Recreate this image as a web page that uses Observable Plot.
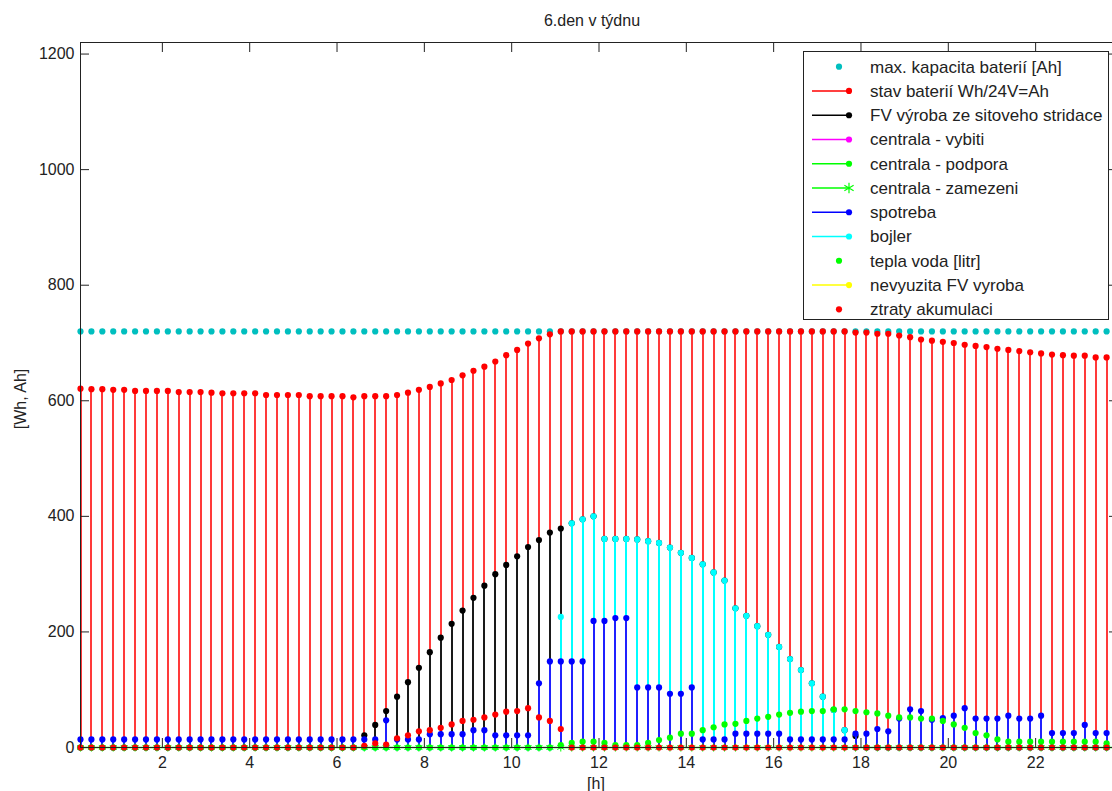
<!DOCTYPE html>
<html>
<head>
<meta charset="utf-8">
<script src="https://cdn.jsdelivr.net/npm/d3@7"></script>
<script src="https://cdn.jsdelivr.net/npm/@observablehq/plot@0.6"></script>
<style>
  html, body { margin: 0; padding: 0; background: #fff; overflow: hidden; }
  #chart { width: 1112px; height: 791px; overflow: hidden; }
  #chart svg { max-width: none !important; }
</style>
</head>
<body>
<div id="chart"></div>
<script>
// Quarter-hour slots of the day (centre of each 15-minute interval)
const hours = d3.range(0.125, 23.7, 0.25);

const title = "6.den v týdnu";
const yLabel = "[Wh, Ah]";
const xLabel = "[h]";
const xTicks = [2, 4, 6, 8, 10, 12, 14, 16, 18, 20, 22];
const yTicks = [0, 200, 400, 600, 800, 1000, 1200];

// max. kapacita baterií [Ah]
const maxKapacita = 720;

// stav baterií Wh/24V=Ah
const stavBaterii = [
  621, 620, 620, 619, 619, 617, 617, 617, 617, 615,
  615, 615, 614, 613, 613, 613, 613, 610, 610, 610,
  610, 608, 608, 608, 608, 606, 608, 608, 608, 610,
  614, 619, 624, 630, 636, 644, 652, 659, 668, 679,
  688, 699, 708, 715, 720, 720, 720, 720, 720, 720,
  720, 720, 720, 720, 720, 720, 720, 720, 720, 720,
  720, 720, 720, 720, 720, 720, 720, 720, 720, 720,
  720, 718, 718, 716, 716, 713, 710, 706, 704, 702,
  700, 697, 695, 693, 690, 688, 686, 684, 682, 680,
  679, 678, 678, 675, 675
];

// FV výroba ze sitoveho stridace
const fvVyroba = [
  0, 0, 0, 0, 0, 0, 0, 0, 0, 0,
  0, 0, 0, 0, 0, 0, 0, 0, 0, 0,
  0, 0, 0, 0, 0, 0, 21, 39, 63, 88,
  113, 138, 165, 190, 214, 237, 259, 280, 300, 316,
  331, 347, 359, 372, 379, 388, 395, 400, 361, 361,
  361, 360, 357, 354, 346, 337, 328, 317, 303, 289,
  241, 228, 210, 195, 174, 153, 134, 111, 88, 65,
  30, 20, 0, 0, 0, 0, 0, 0, 0, 0,
  0, 0, 0, 0, 0, 0, 0, 0, 0, 0,
  0, 0, 0, 0, 0
];

// bojler
const bojler = [
  0, 0, 0, 0, 0, 0, 0, 0, 0, 0,
  0, 0, 0, 0, 0, 0, 0, 0, 0, 0,
  0, 0, 0, 0, 0, 0, 0, 0, 0, 0,
  0, 0, 0, 0, 0, 0, 0, 0, 0, 0,
  0, 0, 0, 0, 226, 388, 395, 400, 361, 361,
  361, 360, 357, 354, 346, 337, 328, 317, 303, 289,
  241, 228, 210, 195, 174, 153, 134, 111, 88, 65,
  30, 0, 0, 0, 0, 0, 0, 0, 0, 0,
  0, 0, 0, 0, 0, 0, 0, 0, 0, 0,
  0, 0, 0, 0, 0
];

// spotreba
const spotreba = [
  14, 14, 14, 14, 14, 14, 14, 14, 14, 14,
  14, 14, 14, 14, 14, 14, 14, 14, 14, 14,
  14, 14, 14, 14, 14, 14, 14, 14, 47, 14,
  14, 14, 23, 23, 23, 23, 30, 30, 21, 21,
  21, 21, 111, 149, 149, 149, 149, 219, 219, 224,
  224, 104, 104, 104, 93, 93, 104, 14, 14, 14,
  24, 24, 24, 24, 24, 14, 14, 14, 14, 14,
  14, 24, 24, 32, 28, 50, 66, 63, 48, 51,
  55, 68, 50, 50, 50, 55, 50, 50, 55, 25,
  25, 25, 39, 25, 25
];

// tepla voda [litr]
const teplaVoda = [
  0, 0, 0, 0, 0, 0, 0, 0, 0, 0,
  0, 0, 0, 0, 0, 0, 0, 0, 0, 0,
  0, 0, 0, 0, 0, 0, 0, 0, 0, 0,
  0, 0, 0, 0, 0, 0, 0, 0, 0, 0,
  0, 0, 0, 0, 4, 8, 10, 10, 8, 4,
  4, 4, 8, 13, 17, 24, 24, 30, 35, 40,
  41, 46, 50, 53, 57, 60, 62, 63, 63, 66,
  66, 63, 61, 59, 55, 52, 52, 50, 50, 46,
  40, 34, 25, 21, 14, 10, 10, 10, 10, 10,
  10, 10, 10, 10, 7
];

// ztraty akumulaci
const ztraty = [
  0, 0, 0, 0, 0, 0, 0, 0, 0, 0,
  0, 0, 0, 0, 0, 0, 0, 0, 0, 0,
  0, 0, 0, 0, 0, 0, 3, 7, 5, 16,
  21, 28, 30, 34, 40, 46, 48, 52, 57, 62,
  63, 68, 52, 46, 32, 0, 0, 0, 0, 0,
  0, 0, 0, 0, 0, 0, 0, 0, 0, 0,
  0, 0, 0, 0, 0, 0, 0, 0, 0, 0,
  0, 0, 0, 0, 0, 0, 0, 0, 0, 0,
  0, 0, 0, 0, 0, 0, 0, 0, 0, 0,
  0, 0, 0, 0, 0
];

const legendLabels = [
  "max. kapacita baterií [Ah]",
  "stav baterií Wh/24V=Ah",
  "FV výroba ze sitoveho stridace",
  "centrala - vybiti",
  "centrala - podpora",
  "centrala - zamezeni",
  "spotreba",
  "bojler",
  "tepla voda [litr]",
  "nevyuzita FV vyroba",
  "ztraty akumulaci"
];

const C = {
  max: "#00bfbf", stav: "#ff0000", fv: "#000000", vybiti: "#ff00ff",
  podpora: "#00ff00", zamezeni: "#00ff00", spotreba: "#0000ff",
  bojler: "#00ffff", voda: "#00ff00", nevyuzita: "#ffff00", ztraty: "#ff0000"
};
// stem lines look a touch lighter than their markers
const stemLine = {stav: "#ff3a3a", fv: "#1a1a1a", bojler: "#00ffff", spotreba: "#2020ff"};

const rows = hours.map((t, i) => ({
  t,
  max: maxKapacita,
  stav: stavBaterii[i],
  fv: fvVyroba[i],
  bojler: bojler[i],
  spotreba: spotreba[i],
  voda: teplaVoda[i],
  ztraty: ztraty[i]
}));

const R = 3.1;
// a stem: vertical line from `from` (default the zero baseline) up to the value, with a marker on top
const stem = (key, from = 0) => [
  Plot.ruleX(rows, {x: "t", y1: from, y2: key, stroke: stemLine[key], strokeWidth: 2, shapeRendering: "crispEdges"}),
  Plot.dot(rows, {x: "t", y: key, r: R, fill: C[key]})
];

const font = "'Liberation Sans', Arial, Helvetica, sans-serif";
const ink = "#222";

const plot = Plot.plot({
  width: 1125,
  height: 791,
  marginLeft: 80,
  marginRight: 8,
  marginTop: 42,
  marginBottom: 44,
  style: {fontFamily: font, fontSize: "16px", background: "#fff", color: ink, maxWidth: "none"},
  x: {domain: [0.125, 23.875]},
  y: {domain: [0, 1220]},
  marks: [
    // capacity limit (markers only)
    Plot.dot(rows, {x: "t", y: "max", r: R, fill: C.max}),
    ...stem("stav"),
    // the boiler stems overlay the lower part of the PV stems
    ...stem("fv", "bojler"),
    ...stem("bojler"),
    ...stem("spotreba"),
    // stem baseline and "centrala - zamezeni" markers at zero
    Plot.ruleY([0], {stroke: C.zamezeni, strokeWidth: 1.5}),
    Plot.dot(rows, {x: "t", y: 0, symbol: "asterisk", r: 3.8, stroke: C.zamezeni, strokeWidth: 1}),
    Plot.dot(rows, {x: "t", y: "voda", r: R, fill: C.voda}),
    Plot.dot(rows, {x: "t", y: "ztraty", r: R, fill: C.ztraty}),
    // axes: labels outside, ticks pointing inwards on all four sides
    Plot.axisY({anchor: "left", ticks: yTicks, tickFormat: d3.format("d"), tickSize: 0, tickPadding: 6, label: null}),
    Plot.axisY({anchor: "left", ticks: yTicks, tickSize: -9, fill: "none", label: null, stroke: ink}),
    Plot.axisY({anchor: "right", ticks: yTicks, tickSize: -9, fill: "none", label: null, stroke: ink}),
    Plot.axisX({anchor: "bottom", ticks: xTicks, tickSize: 0, tickPadding: 9, label: null}),
    Plot.axisX({anchor: "bottom", ticks: xTicks, tickSize: -9, fill: "none", label: null, stroke: ink}),
    Plot.axisX({anchor: "top", ticks: xTicks, tickSize: -9, fill: "none", label: null, stroke: ink}),
    Plot.frame({stroke: ink}),
    Plot.text([title], {text: d => d, frameAnchor: "top", lineAnchor: "middle", dy: -22, dx: -7, fill: ink}),
    Plot.text([yLabel], {text: d => d, frameAnchor: "left", textAnchor: "middle", lineAnchor: "middle", rotate: -90, dx: -60, dy: 4, fill: ink}),
    Plot.text([xLabel], {text: d => d, frameAnchor: "bottom", lineAnchor: "middle", dy: 36, dx: -3, fill: ink})
  ]
});

// Legend box in the upper right corner of the axes
const legendStyle = [
  {color: C.max, line: false, symbol: d3.symbolCircle},
  {color: C.stav, line: true, symbol: d3.symbolCircle},
  {color: C.fv, line: true, symbol: d3.symbolCircle},
  {color: C.vybiti, line: true, symbol: d3.symbolCircle},
  {color: C.podpora, line: true, symbol: d3.symbolCircle},
  {color: C.zamezeni, line: true, symbol: d3.symbolAsterisk},
  {color: C.spotreba, line: true, symbol: d3.symbolCircle},
  {color: C.bojler, line: true, symbol: d3.symbolCircle},
  {color: C.voda, line: false, symbol: d3.symbolCircle},
  {color: C.nevyuzita, line: true, symbol: d3.symbolCircle},
  {color: C.ztraty, line: false, symbol: d3.symbolCircle}
];

const svg = d3.select(plot);
const lg = svg.append("g")
  .attr("font-family", font)
  .attr("font-size", 17)
  .attr("text-anchor", "start")
  .attr("fill", ink);
lg.append("rect")
  .attr("x", 803.5).attr("y", 51.5)
  .attr("width", 305).attr("height", 268)
  .attr("fill", "#fff").attr("stroke", ink);
legendLabels.forEach((label, i) => {
  const s = legendStyle[i];
  const y = 66.7 + i * 24.26;
  if (s.line) {
    lg.append("line")
      .attr("x1", 812).attr("x2", 849).attr("y1", y).attr("y2", y)
      .attr("stroke", s.color).attr("stroke-width", 1.5);
  }
  const mx = s.line ? 849 : 839;
  const isStar = s.symbol === d3.symbolAsterisk;
  lg.append("path")
    .attr("transform", `translate(${mx},${y})`)
    .attr("d", d3.symbol(s.symbol, isStar ? 80 : 30)())
    .attr("fill", isStar ? "none" : s.color)
    .attr("stroke", isStar ? s.color : "none")
    .attr("stroke-width", 1.2);
  lg.append("text")
    .attr("x", 870).attr("y", y)
    .attr("dy", "0.35em")
    .attr("text-anchor", "start")
    .text(label);
});

document.getElementById("chart").appendChild(plot);
</script>
</body>
</html>
